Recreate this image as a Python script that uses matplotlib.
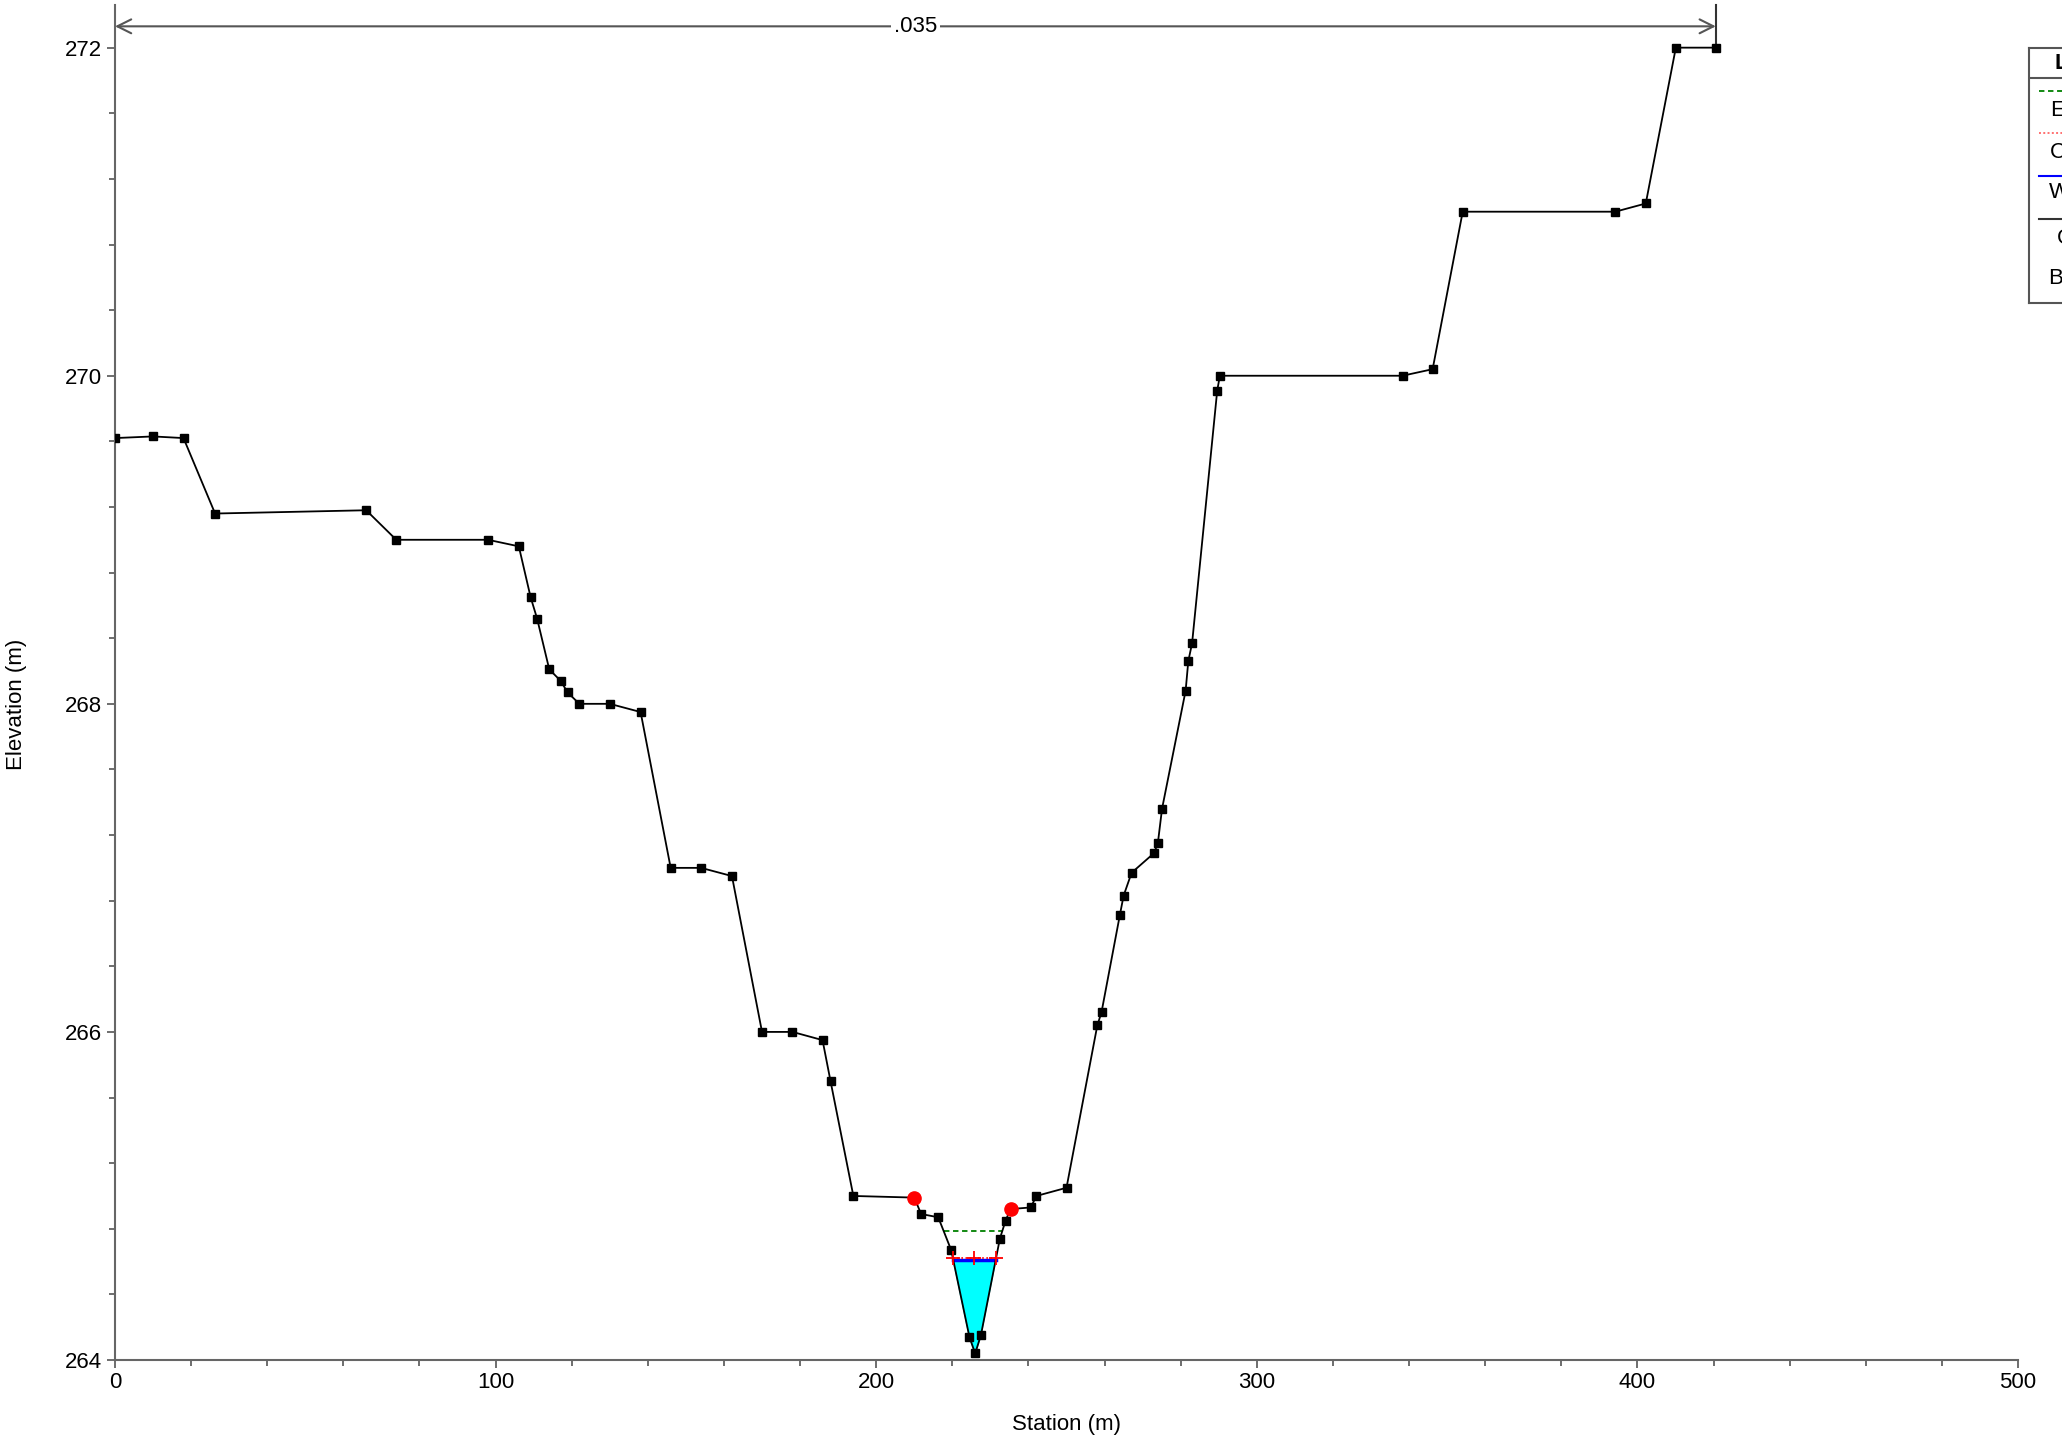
import numpy as np
import matplotlib
matplotlib.use("Agg")
import matplotlib.pyplot as plt
from matplotlib.ticker import MultipleLocator

plt.rcParams['font.family'] = ['Liberation Sans', 'DejaVu Sans']

# ground profile
station = [0.0, 10.0, 18.0, 26.3, 66.0, 73.9, 98.0, 106.1, 109.2, 110.9,
           114.1, 117.1, 118.9, 122.0, 130.0, 138.1, 146.0, 154.0, 162.1, 170.0,
           178.0, 185.9, 188.0, 194.0, 210.0, 211.8, 216.3, 219.7, 224.5, 226.0,
           227.5, 232.5, 234.0, 235.3, 240.6, 242.1, 250.0, 258.1, 259.2, 264.0,
           265.0, 267.1, 273.0, 274.0, 275.1, 281.3, 282.0, 283.0, 289.6, 290.3,
           338.3, 346.2, 354.1, 394.2, 402.2, 410.1, 420.6]
elevation = [269.62, 269.63, 269.62, 269.16, 269.18, 269.00, 269.00, 268.96, 268.65, 268.52,
             268.21, 268.14, 268.07, 268.00, 268.00, 267.95, 267.00, 267.00, 266.95, 266.00,
             266.00, 265.95, 265.70, 265.00, 264.99, 264.89, 264.87, 264.67, 264.14, 264.04,
             264.15, 264.74, 264.85, 264.92, 264.93, 265.00, 265.05, 266.04, 266.12, 266.71,
             266.83, 266.97, 267.09, 267.15, 267.36, 268.08, 268.26, 268.37, 269.91, 270.00,
             270.00, 270.04, 271.00, 271.00, 271.05, 272.00, 272.00]
bank_sta = [210.0, 235.3]
ws_elev = 264.61
crit_elev = 264.62
eg_elev = 264.785
mann_n = ".035"
legend_labels = ["EG PF 1", "Crit PF 1", "WS PF 1", "Ground", "Bank Sta"]

st = np.array(station)
el = np.array(elevation)
FS = 16


def crossing(level):
    # left/right stations where the ground crosses a level around the thalweg
    i0 = int(np.argmin(el))
    i = i0
    while el[i] < level:
        i -= 1
    xl = np.interp(level, [el[i + 1], el[i]], [st[i + 1], st[i]])
    j = i0
    while el[j] < level:
        j += 1
    xr = np.interp(level, [el[j - 1], el[j]], [st[j - 1], st[j]])
    return i, j, xl, xr


fig = plt.figure(figsize=(20.62, 14.4), dpi=100)
ax = fig.add_axes([115 / 2062, 1 - 1360 / 1440, 1903 / 2062, 1355 / 1440])

# water area
i, j, xl, xr = crossing(ws_elev)
px = [xl] + list(st[i + 1:j]) + [xr]
py = [ws_elev] + list(el[i + 1:j]) + [ws_elev]
ax.fill(px, py, color='#00ffff', zorder=1)
ax.plot([xl, xr], [ws_elev, ws_elev], color='blue', lw=2.5, zorder=3)

# critical depth
_, _, cl, cr = crossing(crit_elev)
ax.plot([cl, cr], [crit_elev, crit_elev], color='red', lw=1.2, ls=(0, (1, 1.5)), zorder=4)
ax.plot([cl, (cl + cr) / 2, cr], [crit_elev] * 3, ls='none', marker='+',
        ms=10, mew=1.3, color='red', zorder=6)

# energy grade
_, _, el_l, el_r = crossing(eg_elev)
ax.plot([el_l, el_r], [eg_elev, eg_elev], color='green', lw=1.3, ls=(0, (3, 2)), zorder=3)

# ground
ax.plot(st, el, color='black', lw=1.3, marker='s', ms=6, zorder=5)
bank_el = np.interp(bank_sta, st, el)
ax.plot(bank_sta, bank_el, ls='none', marker='o', ms=9.5, color='red', zorder=6)

ax.set_xlim(0, 500)
ax.set_ylim(264, 272.26)

# manning's n arrow
y_arr = 272.13
ax.plot([st[-1], st[-1]], [el[-1], 272.26], color='#333333', lw=1.5, clip_on=False)
ax.annotate('', xy=(st[0], y_arr), xytext=(st[-1], y_arr),
            arrowprops=dict(arrowstyle='<->', color='#555555', lw=1.5,
                            mutation_scale=25, shrinkA=0, shrinkB=0))
ax.text((st[0] + st[-1]) / 2, y_arr, mann_n, ha='center', va='center', fontsize=FS,
        bbox=dict(facecolor='white', edgecolor='none', pad=2))

for s in ['top', 'right']:
    ax.spines[s].set_visible(False)
for s in ['left', 'bottom']:
    ax.spines[s].set_color('#666666')
    ax.spines[s].set_linewidth(1.5)

ax.xaxis.set_major_locator(MultipleLocator(100))
ax.xaxis.set_minor_locator(MultipleLocator(20))
ax.yaxis.set_major_locator(MultipleLocator(2))
ax.yaxis.set_minor_locator(MultipleLocator(0.4))
ax.tick_params(which='major', length=6, width=1.2, color='#555555', labelsize=FS, pad=3)
ax.tick_params(which='minor', length=4, width=1.2, color='#555555')

ax.set_xlabel("Station (m)", fontsize=FS)
ax.set_ylabel("Elevation (m)", fontsize=FS)
ax.xaxis.set_label_coords(0.5, -0.040)
ax.yaxis.set_label_coords(-0.0465, 0.484)

# legend box, clipped at the right edge as in the source
lg = fig.add_axes([2029 / 2062, 1 - 303 / 1440, 130 / 2062, 255 / 1440])
lg.set_xlim(0, 130)
lg.set_ylim(303, 48)
lg.set_xticks([])
lg.set_yticks([])
for s in lg.spines.values():
    s.set_color('#555555')
    s.set_linewidth(1.5)
lg.text(65, 63, "Legend", ha='center', va='center', fontsize=FS, fontweight='bold')
lg.plot([0, 130], [78, 78], color='#555555', lw=1.5)
lg.plot([10, 120], [91, 91], color='green', lw=1.3, ls=(0, (3, 2)))
lg.text(65, 110, legend_labels[0], ha='center', va='center', fontsize=FS)
lg.plot([10, 120], [133, 133], color='#ff7070', lw=1.4, ls=(0, (1, 1.2)))
lg.text(65, 153, legend_labels[1], ha='center', va='center', fontsize=FS)
lg.plot([10, 120], [176, 176], color='blue', lw=1.5)
lg.text(65, 193, legend_labels[2], ha='center', va='center', fontsize=FS)
lg.plot([10, 120], [219, 219], color='#333333', lw=1.5)
lg.text(65, 238, legend_labels[3], ha='center', va='center', fontsize=FS)
lg.plot([65], [258], marker='o', ms=9.5, color='red')
lg.text(65, 278, legend_labels[4], ha='center', va='center', fontsize=FS)

fig.savefig("out.png", dpi=100)
